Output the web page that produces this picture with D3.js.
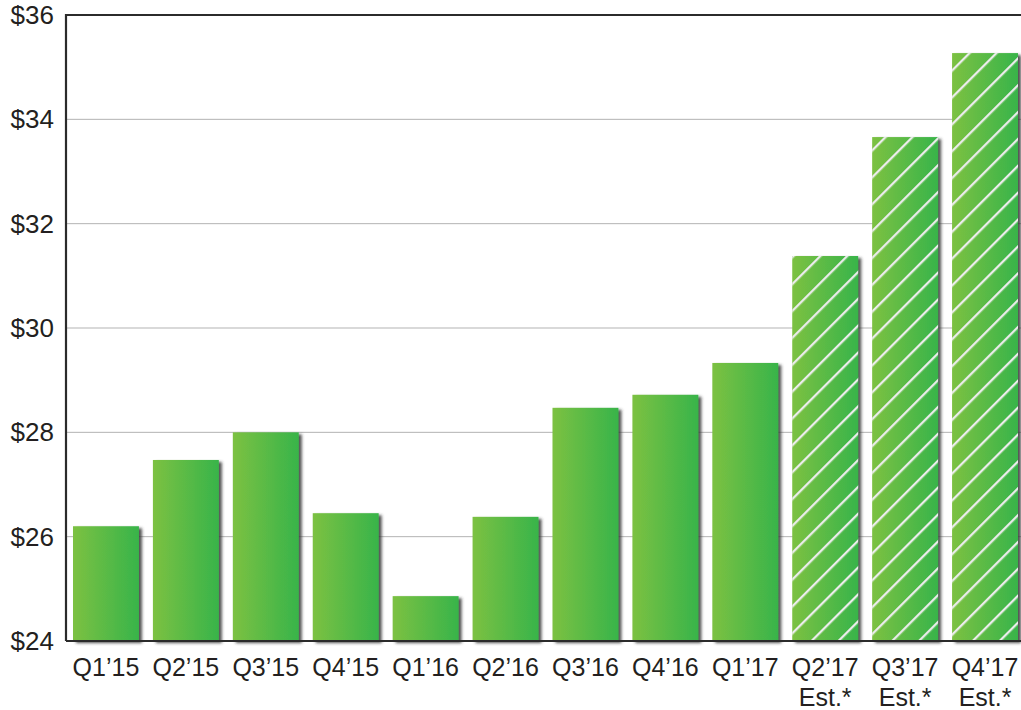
<!DOCTYPE html>
<html>
<head>
<meta charset="utf-8">
<script src="https://cdn.jsdelivr.net/npm/d3@7.9.0/dist/d3.min.js"></script>
<style>
  body { margin: 0; background: #fff; }
  svg { display: block; font-family: "Liberation Sans", Arial, sans-serif; }
</style>
</head>
<body>
<svg id="chart" width="1021" height="710"></svg>
<script>
// data
const quarters = ["Q1’15", "Q2’15", "Q3’15", "Q4’15", "Q1’16", "Q2’16", "Q3’16", "Q4’16", "Q1’17", "Q2’17", "Q3’17", "Q4’17"];
const values = [26.2, 27.47, 28.0, 26.45, 24.86, 26.38, 28.47, 28.72, 29.33, 31.38, 33.66, 35.27];
const estimated = [false, false, false, false, false, false, false, false, false, true, true, true];
const yTicks = [24, 26, 28, 30, 32, 34, 36];

const svg = d3.select('#chart');
const plotLeft = 66, plotRight = 1025, plotTop = 15, plotBottom = 641;

const x = d3.scaleBand().domain(quarters).range([plotLeft, plotRight]).paddingInner(0.175).paddingOuter(0.0875);
const y = d3.scaleLinear().domain([24, 36]).range([plotBottom, plotTop]);

// defs: gradient, hatch, shadow
const defs = svg.append('defs');
const grad = defs.append('linearGradient').attr('id', 'barGrad').attr('x1', 0).attr('x2', 1).attr('y1', 0).attr('y2', 0);
grad.append('stop').attr('offset', '0%').attr('stop-color', '#7cc142');
grad.append('stop').attr('offset', '100%').attr('stop-color', '#38b449');

const hatch = defs.append('pattern').attr('id', 'hatch')
  .attr('patternUnits', 'userSpaceOnUse').attr('width', 19).attr('height', 19)
  .attr('patternTransform', 'rotate(45)');
hatch.append('line').attr('x1', 1).attr('y1', 0).attr('x2', 1).attr('y2', 19)
  .attr('stroke', '#ececec').attr('stroke-width', 2.6);

const shadow = defs.append('filter').attr('id', 'shadow').attr('x', '-10%').attr('y', '-10%').attr('width', '130%').attr('height', '130%');
shadow.append('feDropShadow').attr('dx', 3).attr('dy', 2).attr('stdDeviation', 1.4)
  .attr('flood-color', '#333').attr('flood-opacity', 0.85);

// gridlines
svg.append('g').selectAll('line').data(yTicks.slice(1, -1)).join('line')
  .attr('x1', plotLeft).attr('x2', 1021)
  .attr('y1', d => y(d)).attr('y2', d => y(d))
  .attr('stroke', '#b3b3b3').attr('stroke-width', 1);

// bars
const bars = svg.append('g').selectAll('g').data(quarters).join('g');
bars.append('rect')
  .attr('x', d => x(d)).attr('width', x.bandwidth())
  .attr('y', (d, i) => y(values[i])).attr('height', (d, i) => plotBottom - y(values[i]))
  .attr('fill', 'url(#barGrad)').attr('filter', 'url(#shadow)');
bars.filter((d, i) => estimated[i]).append('rect')
  .attr('x', d => x(d)).attr('width', x.bandwidth())
  .attr('y', d => y(values[quarters.indexOf(d)])).attr('height', d => plotBottom - y(values[quarters.indexOf(d)]))
  .attr('fill', 'url(#hatch)');

// frame: left, top, bottom
svg.append('path')
  .attr('d', `M${plotLeft},${plotBottom} L${plotLeft},${plotTop} L1021,${plotTop}`)
  .attr('fill', 'none').attr('stroke', '#2b2b2b').attr('stroke-width', 2.2);
svg.append('line').attr('x1', plotLeft).attr('x2', 1021).attr('y1', plotBottom).attr('y2', plotBottom)
  .attr('stroke', '#2b2b2b').attr('stroke-width', 2.2);

// y labels
svg.append('g').selectAll('text').data(yTicks).join('text')
  .attr('x', 54).attr('y', d => y(d) + 9)
  .attr('text-anchor', 'end').attr('font-size', 26).attr('fill', '#231f20')
  .text(d => '$' + d);

// x labels
const xl = svg.append('g').selectAll('text').data(quarters).join('text')
  .attr('x', d => x(d) + x.bandwidth() / 2).attr('y', 676)
  .attr('text-anchor', 'middle').attr('font-size', 25).attr('fill', '#231f20');
xl.append('tspan').text(d => d);
xl.filter((d, i) => estimated[i]).append('tspan')
  .attr('x', d => x(d) + x.bandwidth() / 2).attr('dy', 30).text('Est.*');
</script>
</body>
</html>
